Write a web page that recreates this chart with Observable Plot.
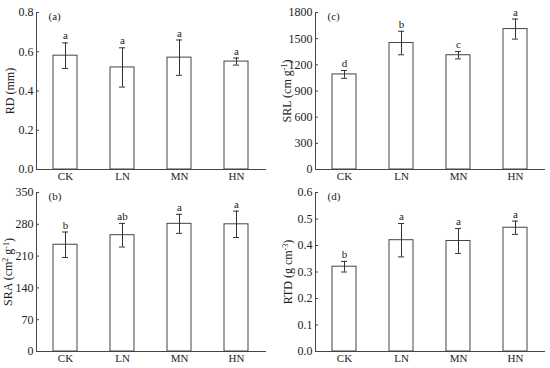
<!DOCTYPE html>
<html>
<head>
<meta charset="utf-8">
<script src="https://cdn.jsdelivr.net/npm/d3@7"></script>
<script src="https://cdn.jsdelivr.net/npm/@observablehq/plot@0.6"></script>
<style>
  body { margin: 0; background: #fff; }
  #fig { position: relative; width: 550px; height: 368px; overflow: hidden; background: #fff; }
  #fig > div { position: absolute; }
  svg { overflow: visible; }
</style>
</head>
<body>
<div id="fig"></div>
<script>
const treatments = ["CK", "LN", "MN", "HN"];

// (a) RD (mm)
const rdMean = [0.58, 0.52, 0.57, 0.55];
const rdErr = [0.065, 0.10, 0.09, 0.018];
const rdSig = ["a", "a", "a", "a"];

// (c) SRL (cm g-1)
const srlMean = [1090, 1450, 1310, 1610];
const srlErr = [45, 135, 42, 115];
const srlSig = ["d", "b", "c", "a"];

// (b) SRA (cm2 g-1)
const sraMean = [235, 256, 281, 280];
const sraErr = [28, 26, 21, 29];
const sraSig = ["b", "ab", "a", "a"];

// (d) RTD (g cm-3)
const rtdMean = [0.32, 0.42, 0.417, 0.467];
const rtdErr = [0.02, 0.063, 0.047, 0.025];
const rtdSig = ["b", "a", "a", "a"];

// axis titles: [text, superscript?]
const rdTitle = [["RD (mm)", 0]];
const srlTitle = [["SRL (cm g", 0], ["-1", 1], [")", 0]];
const sraTitle = [["SRA (cm", 0], ["2", 1], [" g", 0], ["-1", 1], [")", 0]];
const rtdTitle = [["RTD (g cm", 0], ["-3", 1], [")", 0]];

const panels = [
  {tag: "(a)", title: rdTitle, mean: rdMean, err: rdErr, sig: rdSig, domain: [0, 0.8], ticks: [0, 0.2, 0.4, 0.6, 0.8], fmt: d3.format(".1f"), left: 0, top: 0, width: 275, mt: 12, mb: 15, lo: 31},
  {tag: "(c)", title: srlTitle, mean: srlMean, err: srlErr, sig: srlSig, domain: [0, 1800], ticks: [0, 300, 600, 900, 1200, 1500, 1800], fmt: d3.format("d"), left: 279, top: 0, width: 271, mt: 12, mb: 15, lo: 33},
  {tag: "(b)", title: sraTitle, mean: sraMean, err: sraErr, sig: sraSig, domain: [0, 350], ticks: [0, 70, 140, 210, 280, 350], fmt: d3.format("d"), left: 0, top: 184, width: 275, mt: 8, mb: 17, lo: 33},
  {tag: "(d)", title: rtdTitle, mean: rtdMean, err: rtdErr, sig: rtdSig, domain: [0, 0.6], ticks: [0, 0.1, 0.2, 0.3, 0.4, 0.5, 0.6], fmt: d3.format(".1f"), left: 279, top: 184, width: 271, mt: 8, mb: 17, lo: 32}
];

const fig = document.getElementById("fig");
const ink = "#444";
const fs = 10.5;
for (const p of panels) {
  const data = treatments.map((t, i) => ({t, m: p.mean[i], lo: p.mean[i] - p.err[i], hi: p.mean[i] + p.err[i], s: p.sig[i]}));
  const labelText = p.title.map(d => d[0]).join("");
  const chart = Plot.plot({
    width: p.width,
    height: 184,
    marginLeft: 36,
    marginRight: p.width - 265,
    marginTop: p.mt,
    marginBottom: p.mb,
    style: {fontFamily: "'Liberation Serif', 'Times New Roman', serif", fontSize: fs + "px", color: "#222", background: "transparent"},
    x: {domain: treatments, paddingInner: 0.58, paddingOuter: 0.29, label: null},
    y: {domain: p.domain, label: null},
    marks: [
      Plot.barY(data, {x: "t", y: "m", fill: "white", stroke: ink, strokeWidth: 1}),
      Plot.ruleX(data, {x: "t", y1: "lo", y2: "hi", stroke: "#333", strokeWidth: 1}),
      Plot.tickY(data, {x: "t", y: "lo", stroke: "#333", insetLeft: 9, insetRight: 9}),
      Plot.tickY(data, {x: "t", y: "hi", stroke: "#333", insetLeft: 9, insetRight: 9}),
      Plot.text(data, {x: "t", y: "hi", text: "s", dy: -7, fill: "#222", fontSize: 11}),
      Plot.frame({anchor: "left", stroke: ink}),
      Plot.frame({anchor: "bottom", stroke: ink}),
      Plot.axisY({ticks: p.ticks, tickFormat: p.fmt, tickSize: -3, tickPadding: 6, stroke: ink, label: labelText, labelAnchor: "center", labelArrow: "none", labelOffset: p.lo, fontSize: 12}),
      Plot.axisX({tickSize: 0, tickPadding: 3, label: null, fontSize: 11}),
      Plot.text([p.tag], {frameAnchor: "top-left", dx: 12, dy: 0, textAnchor: "start", lineAnchor: "top", fill: "#222", fontSize: 11})
    ]
  });
  // rebuild axis title with real superscripts
  if (p.title.length > 1) {
    for (const t of chart.querySelectorAll("text")) {
      if (t.textContent === labelText) {
        while (t.firstChild) t.removeChild(t.firstChild);
        let prevSup = 0;
        for (const [s, sup] of p.title) {
          const ts = document.createElementNS("http://www.w3.org/2000/svg", "tspan");
          ts.textContent = s;
          if (sup !== prevSup) ts.setAttribute("dy", sup ? "-0.45em" : "0.32em");
          if (sup) ts.setAttribute("font-size", "8");
          t.appendChild(ts);
          prevSup = sup;
        }
      }
    }
  }
  const wrap = document.createElement("div");
  wrap.style.left = p.left + "px";
  wrap.style.top = p.top + "px";
  wrap.appendChild(chart);
  fig.appendChild(wrap);
}
</script>
</body>
</html>
